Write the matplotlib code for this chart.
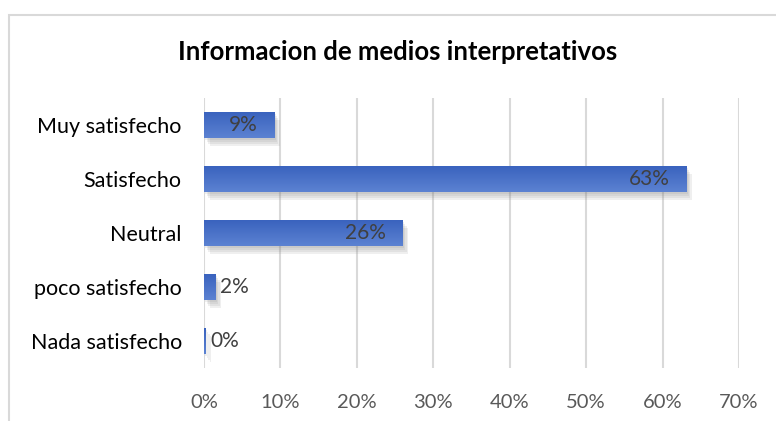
import numpy as np
import matplotlib
matplotlib.use('Agg')
import matplotlib.pyplot as plt
import matplotlib.patches as mpatches
import matplotlib.patheffects as pe
from matplotlib.colors import LinearSegmentedColormap

categorias = ['Muy satisfecho', 'Satisfecho', 'Neutral', 'poco satisfecho', 'Nada satisfecho']
valores = [0.092, 0.631, 0.260, 0.015, 0.002]
etiquetas = ['9%', '63%', '26%', '2%', '0%']
ticks_x = [0, 0.1, 0.2, 0.3, 0.4, 0.5, 0.6, 0.7]
ticks_lbl = ['0%', '10%', '20%', '30%', '40%', '50%', '60%', '70%']

plt.rcParams['font.family'] = ['Lato', 'DejaVu Sans']

fig = plt.figure(figsize=(7.76, 4.21), dpi=100)
ax = fig.add_axes([204 / 776, 1 - 368 / 421, 535 / 776, 270 / 421])

# chart border (excel style)
fig.patches.append(mpatches.Rectangle((9 / 776, -0.05), 1.0, 1 - 15 / 421 + 0.05,
                                      transform=fig.transFigure, fill=False,
                                      edgecolor='#D9D9D9', lw=1.5, zorder=0))

y = np.arange(len(categorias))
h = 0.48
sombra = [pe.SimplePatchShadow(offset=(k * 1.0, -k * 1.4), shadow_rgbFace='#7F7F7F', alpha=0.12)
          for k in (4, 3, 2, 1)]
bars = ax.barh(y, valores, height=h, color='#4472C4', zorder=2,
               path_effects=sombra + [pe.Normal()])

# vertical gradient on each bar
cmap = LinearSegmentedColormap.from_list('g', ['#3A63BE', '#5C82D2'])
grad = np.linspace(0, 1, 64).reshape(-1, 1)
for b, v, yy in zip(bars, valores, y):
    im = ax.imshow(grad, extent=[0, v, yy + h / 2, yy - h / 2], aspect='auto',
                   cmap=cmap, origin='upper', zorder=3)
    im.set_clip_path(b)

for v, yy, t in zip(valores, y, etiquetas):
    if v > 0.05:
        ax.text(v - 0.022, yy, t, ha='right', va='center', fontsize=15, color='#404040', zorder=4)
    else:
        ax.text(v + 0.006, yy, t, ha='left', va='center', fontsize=15, color='#404040', zorder=4)

ax.set_xlim(0, 0.7)
ax.set_ylim(len(categorias) - 0.5, -0.5)
ax.set_xticks(ticks_x)
ax.set_xticklabels(ticks_lbl, fontsize=14.5, color='#595959')
ax.set_yticks(y)
ax.set_yticklabels(categorias, fontsize=15.5, color='#000000')
ax.tick_params(length=0, axis='x', pad=19)
ax.tick_params(length=0, axis='y', pad=16)
ax.grid(axis='x', color='#D9D9D9', lw=1.5, zorder=0)
ax.set_axisbelow(True)
for s in ax.spines.values():
    s.set_visible(False)

fig.text(398 / 776, 1 - 52 / 421, 'Informacion de medios interpretativos',
         ha='center', va='center', fontsize=18.5, fontweight='bold', color='#000000')

fig.savefig('out.png', dpi=100)
